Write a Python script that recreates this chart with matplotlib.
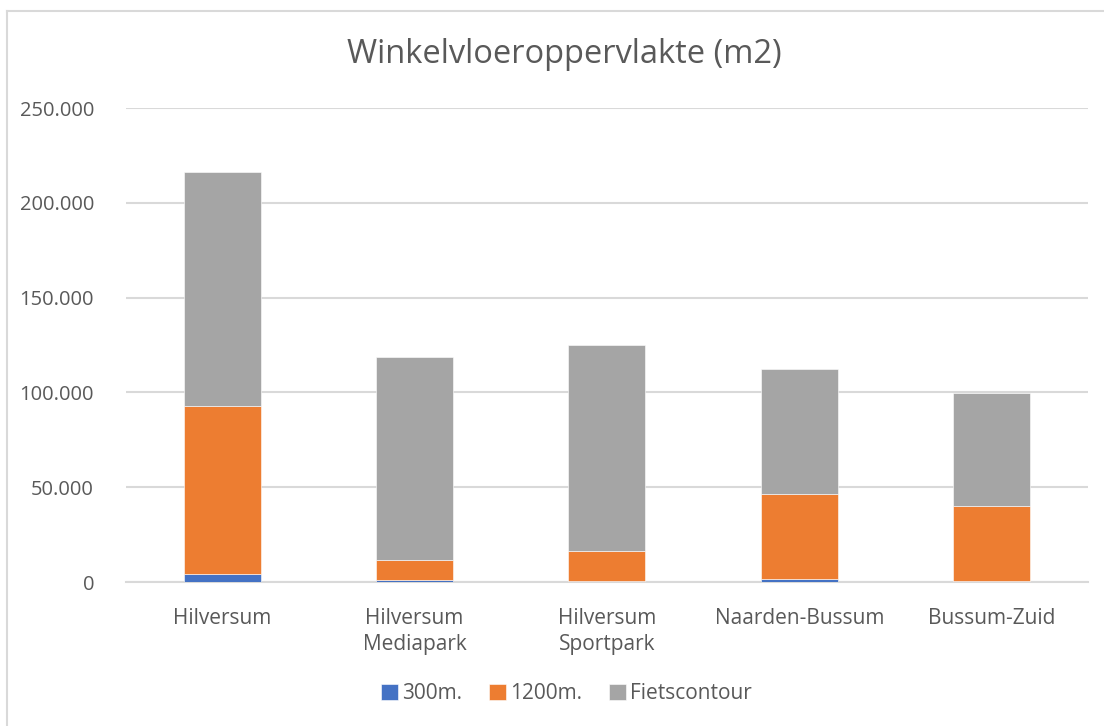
"""Stacked bar chart of shop floor area per location."""

import matplotlib

matplotlib.use("Agg")

import matplotlib.pyplot as plt
from matplotlib.lines import Line2D
from matplotlib.ticker import FuncFormatter

plt.rcParams["font.family"] = ["Open Sans", "DejaVu Sans"]

locations = [
    "Hilversum",
    "Hilversum\nMediapark",
    "Hilversum\nSportpark",
    "Naarden-Bussum",
    "Bussum-Zuid",
]
series_names = ["300m.", "1200m.", "Fietscontour"]

# Segment values in m2
area_300 = [4200, 900, 300, 1600, 300]
area_1200 = [88800, 10900, 16100, 45000, 40000]
area_bike = [123300, 106900, 108400, 66000, 59200]

colors = ["#4472C4", "#ED7D31", "#A5A5A5"]
text_color = "#595959"
grid_color = "#D9D9D9"


def dotted_thousands(value, _position):
    if value == 0:
        return "0"
    return f"{value:,.0f}".replace(",", ".")


figure = plt.figure(figsize=(11.04, 7.26), dpi=100)
axis = figure.add_axes([0.1141, 0.1983, 0.8714, 0.6529])

positions = range(len(locations))
bottom = [0] * len(locations)
for name, values, color in zip(series_names, [area_300, area_1200, area_bike], colors):
    axis.bar(
        positions,
        values,
        width=0.4,
        bottom=bottom,
        color=color,
        edgecolor="#FFFFFF",
        linewidth=0.4,
        label=name,
        zorder=3,
    )
    bottom = [b + v for b, v in zip(bottom, values)]

axis.set_xlim(-0.5, len(locations) - 0.5)
axis.set_ylim(0, 250000)
axis.set_yticks(range(0, 250001, 50000))
axis.yaxis.set_major_formatter(FuncFormatter(dotted_thousands))
axis.set_xticks(list(positions))
axis.set_xticklabels(locations, linespacing=1.3)

axis.grid(axis="y", color=grid_color, linewidth=1.5, zorder=0)
for side in ["top", "right", "left"]:
    axis.spines[side].set_visible(False)
axis.spines["bottom"].set_color(grid_color)
axis.spines["bottom"].set_linewidth(1.5)
axis.tick_params(axis="both", length=0, colors=text_color)
axis.tick_params(axis="y", pad=23, labelsize=14.5)
axis.tick_params(axis="x", pad=19, labelsize=15)

figure.text(
    0.511, 0.925, "Winkelvloeroppervlakte (m2)",
    ha="center", va="center", fontsize=23.5, color=text_color,
)

handles, labels = axis.get_legend_handles_labels()
figure.legend(
    handles,
    labels,
    loc="center",
    bbox_to_anchor=(0.513, 0.045),
    ncol=3,
    frameon=False,
    fontsize=15,
    labelcolor=text_color,
    handlelength=0.8,
    handleheight=0.8,
    handletextpad=0.2,
    columnspacing=1.3,
)

# Chart border (top and left edges visible in the crop)
figure.add_artist(
    Line2D([7 / 1104, 7 / 1104], [0, 1 - 11 / 726], transform=figure.transFigure,
           color=grid_color, linewidth=1.5)
)
figure.add_artist(
    Line2D([7 / 1104, 1], [1 - 11 / 726, 1 - 11 / 726], transform=figure.transFigure,
           color=grid_color, linewidth=1.5)
)

figure.savefig("out.png", dpi=100)
